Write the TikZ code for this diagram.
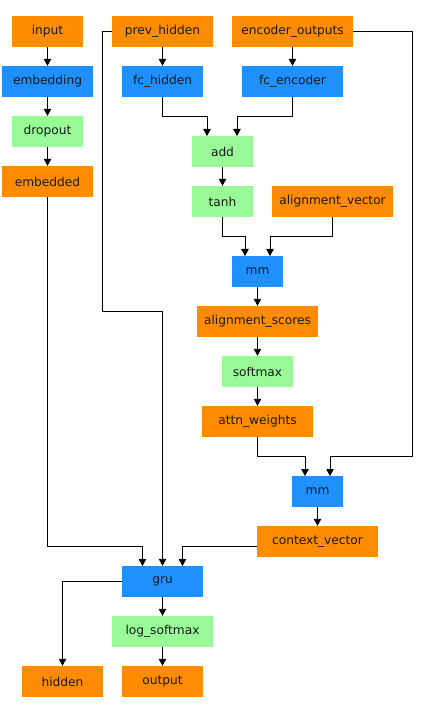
\documentclass[tikz,border=0pt]{standalone}
\usepackage{fontspec}
\setmainfont{DejaVu Sans}
\usetikzlibrary{arrows.meta}
\definecolor{cOrange}{HTML}{FF8C00}
\definecolor{cBlue}{HTML}{1E90FF}
\definecolor{cGreen}{HTML}{98FB98}
\begin{document}
\begin{tikzpicture}[x=1pt,y=-1pt,
  box/.style={inner sep=0pt,minimum height=31pt,font=\fontsize{12.2}{14}\selectfont,text=black!90,anchor=center},
  tensor/.style={box,fill=cOrange},
  layer/.style={box,fill=cBlue},
  func/.style={box,fill=cGreen},
  conn/.style={line width=0.9pt,-{Triangle[length=7pt,width=7.5pt]}}]
\path[use as bounding box] (0,0) rectangle (425,708);
\node[tensor,minimum width=71pt] (input) at (47.5,31.5) {input};
\node[tensor,minimum width=101pt] (prev) at (162.5,31.5) {prev\_hidden};
\node[tensor,minimum width=121pt] (enc) at (292.5,31.5) {encoder\_outputs};
\node[layer,minimum width=91pt] (embedding) at (47.5,81.5) {embedding};
\node[layer,minimum width=81pt] (fch) at (162.5,81.5) {fc\_hidden};
\node[layer,minimum width=101pt] (fce) at (292.5,81.5) {fc\_encoder};
\node[func,minimum width=71pt] (dropout) at (47.5,131.5) {dropout};
\node[func,minimum width=61pt] (add) at (222.5,151.5) {add};
\node[tensor,minimum width=91pt] (embedded) at (47.5,181.5) {embedded};
\node[func,minimum width=61pt] (tanh) at (222.5,201.5) {tanh};
\node[tensor,minimum width=121pt] (alv) at (332.5,201.5) {alignment\_vector};
\node[layer,minimum width=51pt] (mma) at (257.5,271.5) {mm};
\node[tensor,minimum width=121pt] (als) at (257.5,321.5) {alignment\_scores};
\node[func,minimum width=71pt] (softmax) at (257.5,371.5) {softmax};
\node[tensor,minimum width=111pt] (attn) at (257.5,421.5) {attn\_weights};
\node[layer,minimum width=51pt] (mmb) at (317.5,491.5) {mm};
\node[tensor,minimum width=121pt] (ctx) at (317.5,541.5) {context\_vector};
\node[layer,minimum width=81pt] (gru) at (162.5,581.5) {gru};
\node[func,minimum width=101pt] (logsm) at (162.5,631.5) {log\_softmax};
\node[tensor,minimum width=81pt] (hidden) at (62.5,681.5) {hidden};
\node[tensor,minimum width=81pt] (output) at (162.5,681.5) {output};

\draw[conn] (input) -- (embedding);
\draw[conn] (embedding) -- (dropout);
\draw[conn] (dropout) -- (embedded);
\draw[conn] (prev) -- (fch);
\draw[conn] (enc) -- (fce);
\draw[conn] (fch.south) |- (207,116) -- (207,136);
\draw[conn] (fce.south) |- (237,116) -- (237,136);
\draw[conn] (add) -- (tanh);
\draw[conn] (tanh.south) |- (245,236) -- (245,256);
\draw[conn] (alv.south) |- (270,236) -- (270,256);
\draw[conn] (mma) -- (als);
\draw[conn] (als) -- (softmax);
\draw[conn] (softmax) -- (attn);
\draw[conn] (attn.south) |- (305,456) -- (305,476);
\draw[conn] (enc.east) -- (412.5,31.5) |- (330,456) -- (330,476);
\draw[conn] (mmb) -- (ctx);
\draw[conn] (prev.west) -- (102,31.5) |- (162.5,311) -- (gru.north);
\draw[conn] (embedded.south) |- (142.5,546) -- (142.5,566);
\draw[conn] ([yshift=-4.5pt]ctx.west) -- (182.5,546) -- (182.5,566);
\draw[conn] (gru.west) -| (hidden.north);
\draw[conn] (gru) -- (logsm);
\draw[conn] (logsm) -- (output);
\end{tikzpicture}
\end{document}
